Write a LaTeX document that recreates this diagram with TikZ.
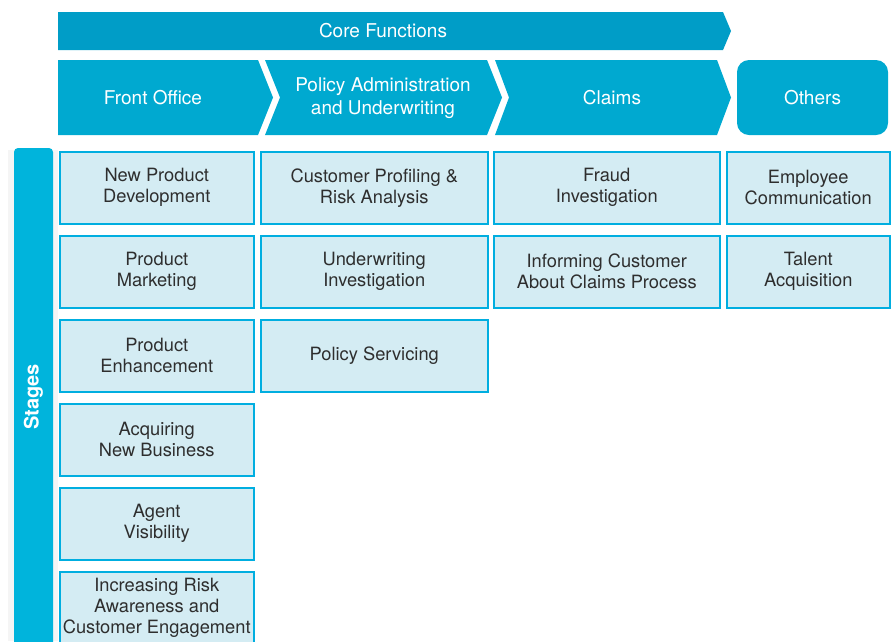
\documentclass[tikz,border=0pt]{standalone}
\usepackage{fontspec}
\setmainfont{TeX Gyre Heros}
\definecolor{coreblue}{HTML}{009DC7}
\definecolor{headblue}{HTML}{00A9D0}
\definecolor{stageblue}{HTML}{00B4DC}
\definecolor{boxfill}{HTML}{D4ECF3}
\definecolor{boxline}{HTML}{00AEE0}
\definecolor{txtgray}{HTML}{2E2E2E}
\begin{document}
\begin{tikzpicture}[x=1pt,y=-1pt,
  hdr/.style={text=white,font=\fontsize{19}{23}\selectfont,align=center},
  cell/.style={draw=boxline,fill=boxfill,line width=1.5pt,inner sep=0pt,
    text=txtgray,font=\fontsize{18.3}{21}\selectfont,align=center,anchor=north west},
  c1/.style={cell,minimum width=194pt,minimum height=72pt},
  c2/.style={cell,minimum width=227pt,minimum height=72pt},
  c3/.style={cell,minimum width=226pt,minimum height=72pt},
  c4/.style={cell,minimum width=163pt,minimum height=72pt}]
\useasboundingbox (0,0) rectangle (893,641);
% core functions bar
\fill[coreblue] (58,12) -- (723,12) -- (731,31) -- (723,50) -- (58,50) -- cycle;
\node[hdr] (core) at (383,31) {Core Functions};
% chevrons
\fill[headblue] (58,60) -- (258,60) -- (273,97.5) -- (258,135) -- (58,135) -- cycle;
\node[hdr] (front) at (153,97.5) {Front Office};
\fill[headblue] (265,60) -- (487,60) -- (502,97.5) -- (487,135) -- (265,135) -- (280,97.5) -- cycle;
\node[hdr] (policy) at (383,98.5) {Policy Administration\\and Underwriting};
\fill[headblue] (495,60) -- (717,60) -- (731,97.5) -- (717,135) -- (495,135) -- (509,97.5) -- cycle;
\node[hdr] (claims) at (612,97.5) {Claims};
\fill[headblue,rounded corners=12pt] (737,60) rectangle (888,135);
\node[hdr] (others) at (812.5,97.5) {Others};
% stages bar
\fill[black!4] (8,150) rectangle (58,641);
\fill[stageblue,rounded corners=4pt] (14,148) -- (53,148) -- (53,660) -- (14,660) -- cycle;
\node[text=white,font=\fontsize{20}{24}\selectfont\bfseries,rotate=90] (stages) at (33.5,397) {Stages};
% column 1
\node[c1] (npd) at (59,151) {New Product\\Development};
\node[c1] (pm) at (59,235) {Product\\Marketing};
\node[c1] (pe) at (59,319) {Product\\Enhancement};
\node[c1] (anb) at (59,403) {Acquiring\\New Business};
\node[c1] (av) at (59,487) {Agent\\Visibility};
\node[c1] (ira) at (59,571) {Increasing Risk\\Awareness and\\Customer Engagement};
% column 2
\node[c2] (cpr) at (260,151) {Customer Profiling \&\\Risk Analysis};
\node[c2] (ui) at (260,235) {Underwriting\\Investigation};
\node[c2] (ps) at (260,319) {Policy Servicing};
% column 3
\node[c3] (fi) at (493,151) {Fraud\\Investigation};
\node[c3] (ic) at (493,235) {Informing Customer\\About Claims Process};
% column 4
\node[c4] (ec) at (726,151) {Employee\\Communication};
\node[c4] (ta) at (726,235) {Talent\\Acquisition};
\end{tikzpicture}
\end{document}
